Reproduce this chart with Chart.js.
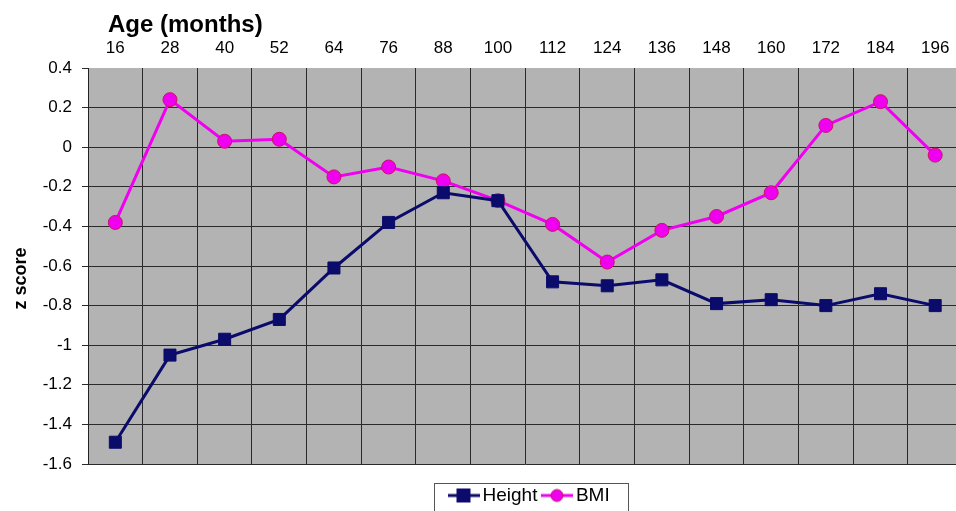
<!DOCTYPE html>
<html>
<head>
<meta charset="utf-8">
<script src="https://cdn.jsdelivr.net/npm/chart.js@4.4.0/dist/chart.umd.min.js"></script>
<style>
  html, body { margin: 0; padding: 0; background: #fff; overflow: hidden; }
  #wrap { width: 956px; height: 511px; overflow: hidden; }
</style>
</head>
<body>
<div id="wrap"><canvas id="zChart" width="972" height="530"></canvas></div>
<script>
// age in months
var ages = [16, 28, 40, 52, 64, 76, 88, 100, 112, 124, 136, 148, 160, 172, 184, 196];
// z scores
var heightZ = [-1.49, -1.05, -0.97, -0.87, -0.61, -0.38, -0.23, -0.27, -0.68, -0.70, -0.67, -0.79, -0.77, -0.80, -0.74, -0.80];
var bmiZ = [-0.38, 0.24, 0.03, 0.04, -0.15, -0.10, -0.17, -0.27, -0.39, -0.58, -0.42, -0.35, -0.23, 0.11, 0.23, -0.04];

var navy = '#0b0b6b';
var magenta = '#f000f0';
var fontFam = 'Arial, "Liberation Sans", sans-serif';

// little line+marker pictures for the legend, like the excel one
function legendMark(color, shape) {
    var c = document.createElement('canvas');
    c.width = 32; c.height = 16;
    var g = c.getContext('2d');
    g.strokeStyle = color;
    g.lineWidth = 3;
    g.beginPath(); g.moveTo(0, 8); g.lineTo(32, 8); g.stroke();
    if (shape == 'rect') {
        g.fillStyle = color;
        g.fillRect(9, 1, 14, 14);
    } else {
        g.fillStyle = magenta;
        g.strokeStyle = '#cc1166';
        g.lineWidth = 1;
        g.beginPath(); g.arc(16, 8, 6, 0, Math.PI * 2); g.fill(); g.stroke();
    }
    return c;
}

var plotBg = {
    id: 'plotBg',
    beforeDraw: function (chart) {
        var a = chart.chartArea, ctx = chart.ctx;
        ctx.save();
        ctx.fillStyle = '#b3b3b3';
        ctx.fillRect(a.left, a.top, a.right - a.left, a.bottom - a.top);
        ctx.restore();
    }
};

// put the legend where the excel one sits (not centred on this crop)
var legendPlace = {
    id: 'legendPlace',
    afterLayout: function (chart) {
        var lg = chart.legend;
        var h = lg.bottom - lg.top;
        lg.left = 444; lg.right = 968;
        lg.top = 476; lg.bottom = 476 + h;
    }
};

// border round the legend
var legendBox = {
    id: 'legendBox',
    afterDraw: function (chart) {
        var boxes = chart.legend.legendHitBoxes;
        if (!boxes || !boxes.length) return;
        var l = 9999, r = 0, t = 9999, b = 0;
        boxes.forEach(function (h) {
            l = Math.min(l, h.left); r = Math.max(r, h.left + h.width);
            t = Math.min(t, h.top); b = Math.max(b, h.top + h.height);
        });
        var ctx = chart.ctx;
        ctx.save();
        ctx.strokeStyle = '#555';
        ctx.lineWidth = 1;
        ctx.strokeRect(Math.round(l - 20) + 0.5, Math.round(t - 3) + 0.5, Math.round(r - l + 38), 60);
        ctx.restore();
    }
};

var ctx = document.getElementById('zChart').getContext('2d');
var chart = new Chart(ctx, {
    type: 'line',
    data: {
        labels: ages,
        datasets: [
            {
                label: 'Height',
                data: heightZ,
                borderColor: navy,
                backgroundColor: navy,
                borderWidth: 3,
                pointStyle: 'rect',
                pointRadius: 8.5,
                pointBorderColor: navy,
                pointBorderWidth: 1,
                tension: 0
            },
            {
                label: 'BMI',
                data: bmiZ,
                borderColor: magenta,
                backgroundColor: magenta,
                borderWidth: 3,
                pointStyle: 'circle',
                pointRadius: 7,
                pointBorderColor: '#cc1166',
                pointBorderWidth: 1,
                tension: 0
            }
        ]
    },
    options: {
        responsive: false,
        animation: false,
        layout: { padding: { left: 0, right: 4, top: 0, bottom: 27 } },
        scales: {
            x: {
                type: 'category',
                position: 'top',
                offset: true,
                grid: { offset: true, color: '#2a2a2a', lineWidth: 1, drawTicks: false },
                border: { display: false },
                ticks: { color: '#000', font: { family: fontFam, size: 17 }, padding: 9, maxRotation: 0, autoSkip: false },
                title: {
                    display: true,
                    text: '   Age (months)',
                    align: 'start',
                    color: '#000',
                    font: { family: fontFam, size: 24, weight: 'bold' },
                    padding: { top: 11, bottom: 0 }
                },
                afterFit: function (s) { s.height = 68; }
            },
            y: {
                min: -1.6,
                max: 0.4,
                ticks: {
                    stepSize: 0.2,
                    color: '#000',
                    font: { family: fontFam, size: 17 },
                    padding: 10,
                    callback: function (v) { return String(Math.round(v * 10) / 10); }
                },
                grid: {
                    // no dark line along the top edge of the plot
                    color: function (c) { return c.tick && c.tick.value > 0.39 ? 'rgba(0,0,0,0)' : '#2a2a2a'; },
                    lineWidth: 1,
                    tickLength: 6,
                    tickColor: '#2a2a2a'
                },
                border: { color: '#222', width: 1 },
                title: {
                    display: true,
                    text: 'z score     ',
                    color: '#000',
                    font: { family: fontFam, size: 18, weight: 'bold' },
                    padding: { top: 10, bottom: 0 }
                },
                afterFit: function (s) { s.width = 88; }
            }
        },
        plugins: {
            legend: {
                position: 'bottom',
                align: 'start',
                labels: {
                    color: '#000',
                    font: { family: fontFam, size: 19 },
                    usePointStyle: true,
                    pointStyleWidth: 19,
                    padding: 10,
                    generateLabels: function (ch) {
                        return ch.data.datasets.map(function (ds, i) {
                            return {
                                text: ds.label,
                                pointStyle: legendMark(ds.borderColor, ds.pointStyle),
                                fillStyle: ds.borderColor,
                                strokeStyle: ds.borderColor,
                                lineWidth: 0,
                                hidden: false,
                                datasetIndex: i
                            };
                        });
                    }
                }
            },
            tooltip: { enabled: false }
        }
    },
    plugins: [plotBg, legendPlace, legendBox]
});
</script>
</body>
</html>
